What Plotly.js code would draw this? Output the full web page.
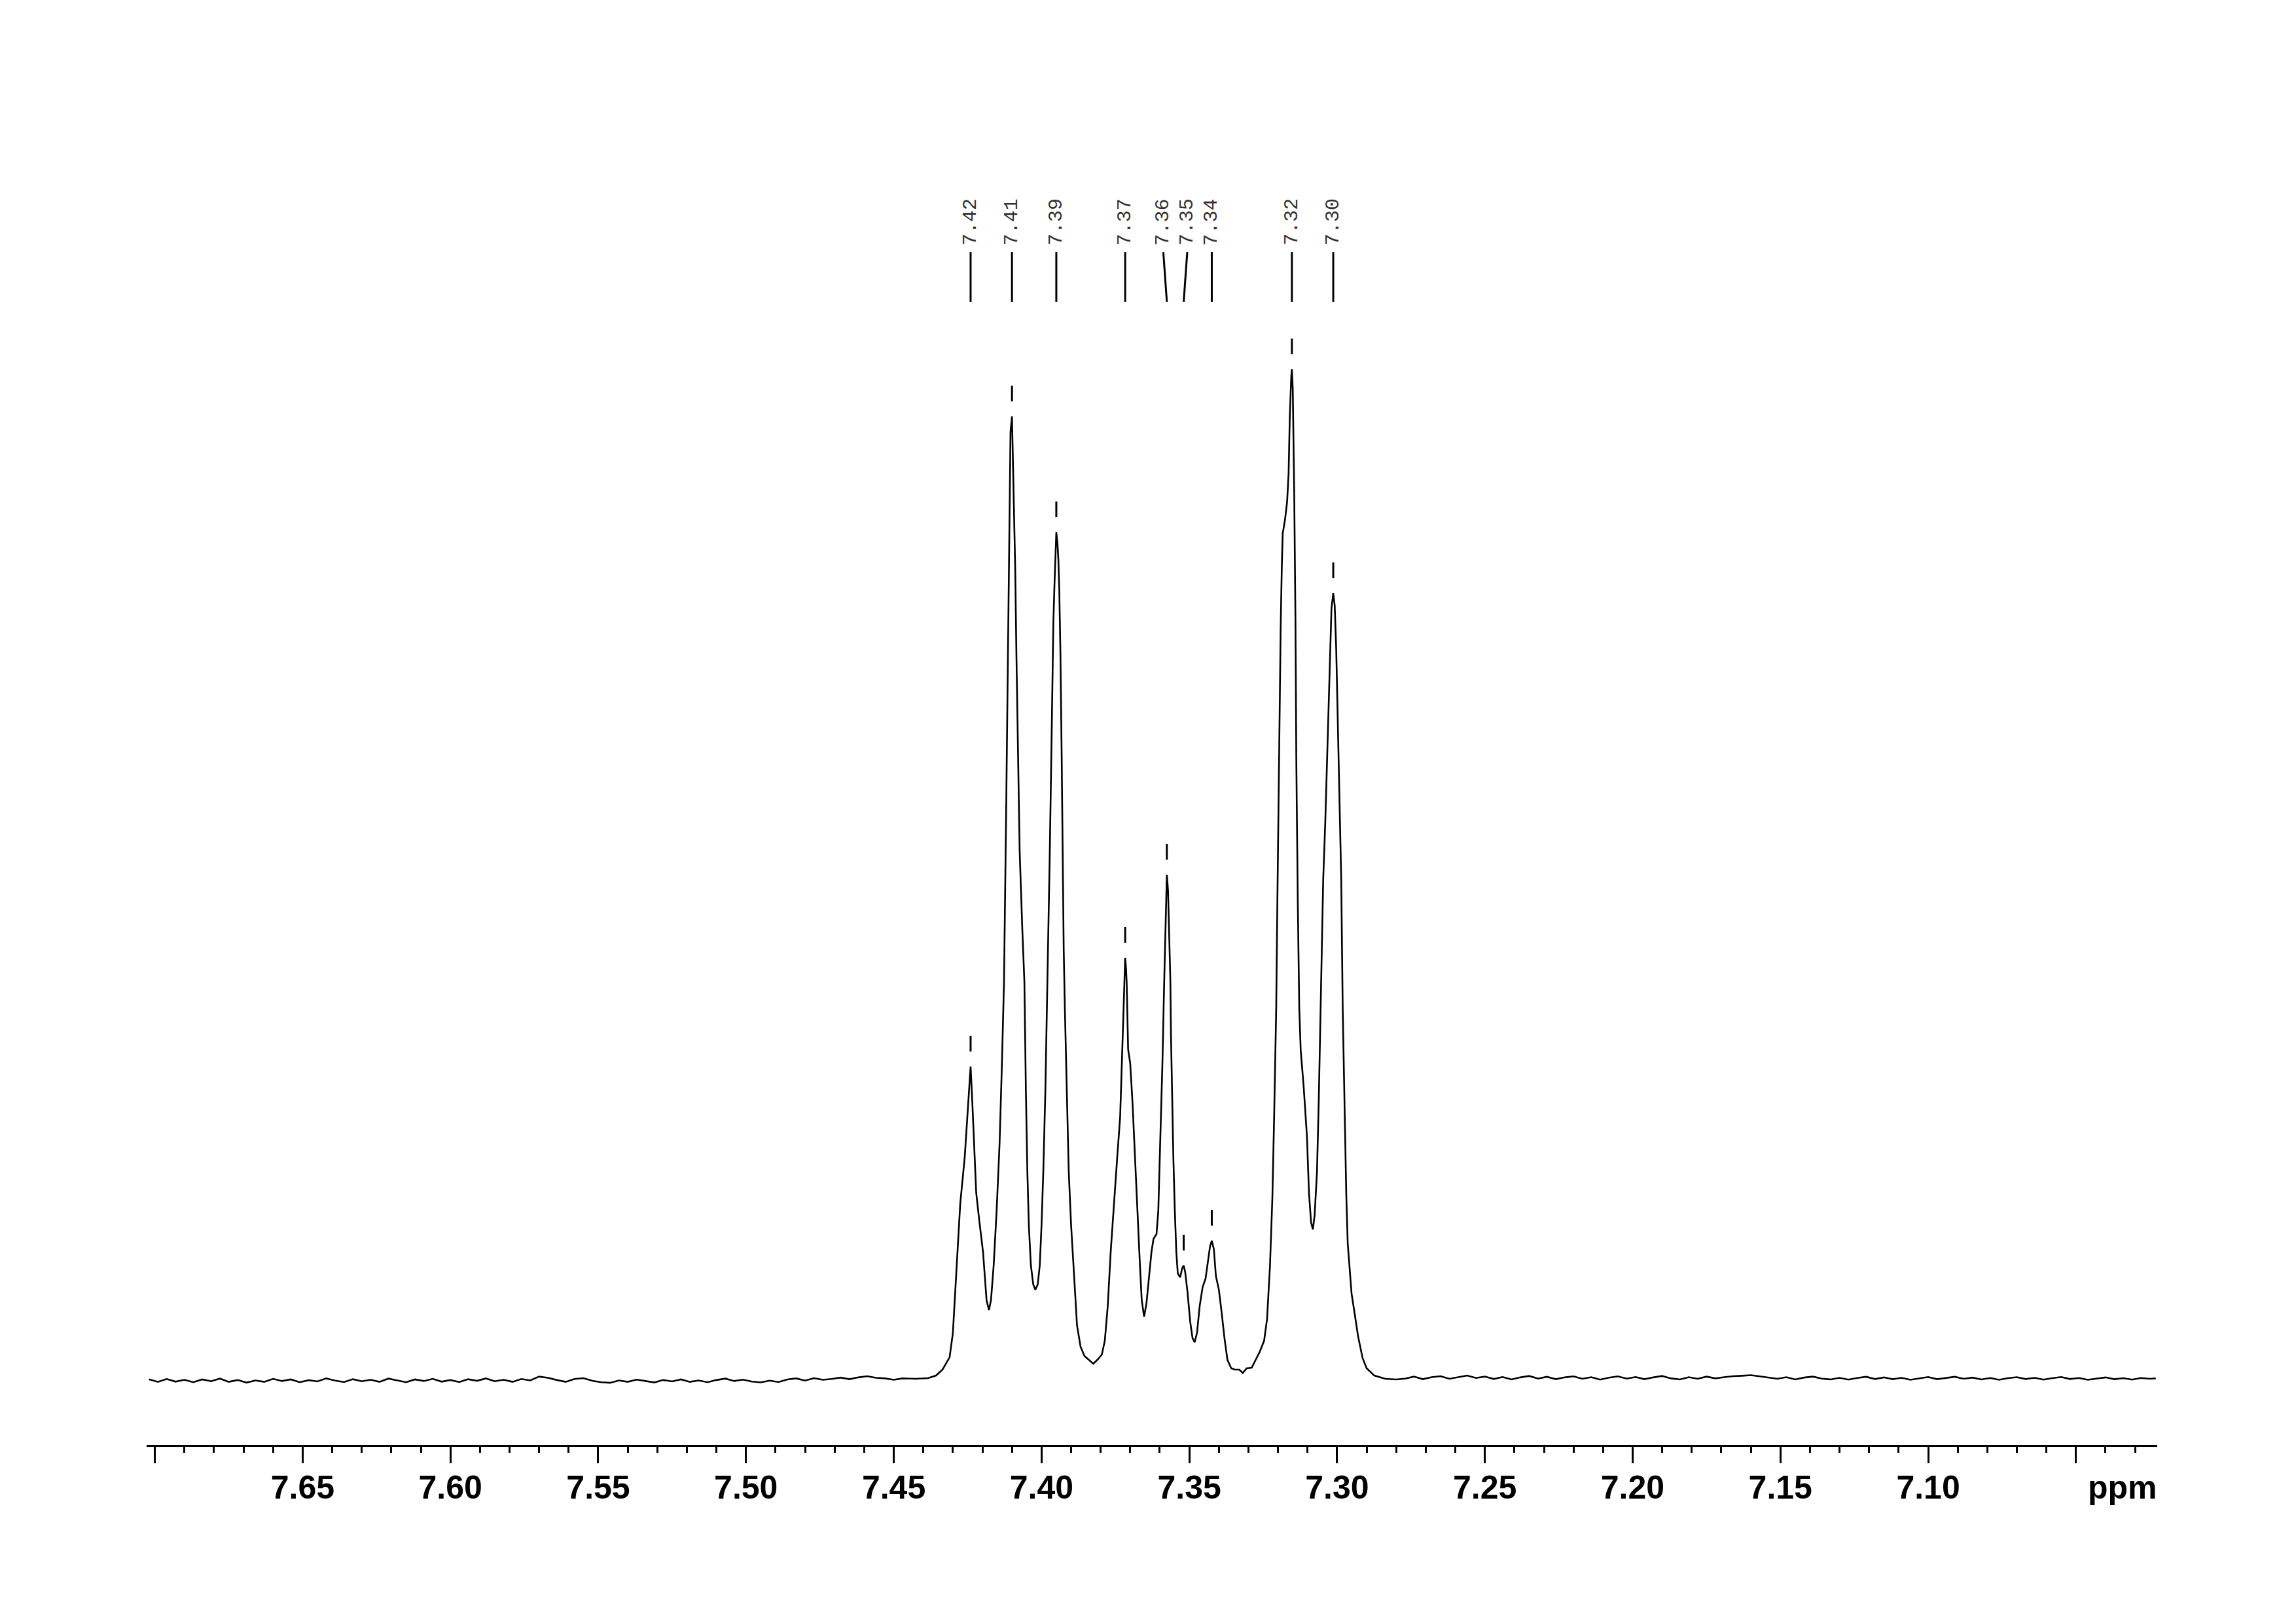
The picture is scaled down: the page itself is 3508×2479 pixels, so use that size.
<!DOCTYPE html>
<html>
<head>
<meta charset="utf-8">
<script src="https://cdn.plot.ly/plotly-3.0.1.min.js"></script>
<style>html,body{margin:0;padding:0;background:#fff;}#chart{width:3508px;height:2479px;}</style>
</head>
<body>
<div id="chart"></div>
<script>
// ---- Data (chemical shift in ppm, intensity in arbitrary units) ----
const baseLeftPpm = [7.702,7.699,7.696,7.693,7.690,7.687,7.684,7.681,7.678,7.675,7.672,7.669,7.666,7.663,7.660,7.657,7.654,7.651,7.648,7.645,7.642,7.639,7.636,7.633,7.630,7.627,7.624,7.621,7.618,7.615,7.612,7.609,7.606,7.603,7.600,7.597,7.594,7.591,7.588,7.585,7.582,7.579,7.576,7.573,7.570,7.567,7.564,7.561,7.558,7.555,7.552,7.549,7.546,7.543,7.540,7.537,7.534,7.531,7.528,7.525,7.522,7.519,7.516,7.513,7.510,7.507,7.504,7.501,7.498,7.495,7.492,7.489,7.486,7.483,7.480,7.477,7.474,7.471,7.468,7.465,7.462,7.459,7.456,7.453,7.450,7.447,7.4445];
const baseLeftInt = [-0.05,-0.30,-0.02,-0.28,-0.10,-0.34,-0.06,-0.24,0.02,-0.30,-0.12,-0.38,-0.16,-0.30,0.00,-0.22,-0.06,-0.34,-0.14,-0.26,0.04,-0.18,-0.32,-0.04,-0.24,-0.10,-0.30,0.02,-0.16,-0.34,-0.06,-0.22,0.00,-0.28,-0.12,-0.32,-0.04,-0.20,0.04,-0.24,-0.10,-0.30,-0.02,-0.16,0.22,0.10,-0.12,-0.30,-0.02,0.06,-0.20,-0.34,-0.40,-0.16,-0.30,-0.08,-0.22,-0.36,-0.12,-0.26,-0.06,-0.30,-0.16,-0.34,-0.12,0.02,-0.22,-0.08,-0.28,-0.36,-0.18,-0.32,-0.06,0.04,-0.18,0.06,-0.10,-0.02,0.12,-0.04,0.14,0.26,0.10,0.04,-0.10,0.04,0.02];

const multipletPpm = [7.4424,7.4384,7.4357,7.4335,7.4311,7.4300,7.4290,7.4275,7.4260,7.4251,7.4246,7.4240,7.4236,7.4228,7.4221,7.4211,7.4198,7.4186,7.4178,7.4171,7.4162,7.4152,7.4142,7.4134,7.4127,7.4120,7.4115,7.4111,7.4108,7.4105,7.4100,7.4097,7.4094,7.4089,7.4085,7.4080,7.4074,7.4065,7.4058,7.4053,7.4048,7.4043,7.4036,7.4028,7.4021,7.4013,7.4006,7.4000,7.3994,7.3987,7.3982,7.3977,7.3972,7.3965,7.3960,7.3956,7.3953,7.3950,7.3946,7.3943,7.3940,7.3936,7.3932,7.3929,7.3925,7.3921,7.3915,7.3908,7.3900,7.3890,7.3880,7.3868,7.3855,7.3840,7.3825,7.3811,7.3796,7.3786,7.3776,7.3766,7.3754,7.3744,7.3734,7.3727,7.3720,7.3717,7.3714,7.3712,7.3707,7.3700,7.3692,7.3684,7.3676,7.3667,7.3661,7.3653,7.3645,7.3636,7.3628,7.3621,7.3611,7.3605,7.3598,7.3591,7.3585,7.3581,7.3578,7.3576,7.3572,7.3569,7.3564,7.3562,7.3558,7.3554,7.3549,7.3544,7.3539,7.3531,7.3524,7.3519,7.3514,7.3506,7.3497,7.3489,7.3482,7.3474,7.3465,7.3455,7.3445,7.3437,7.3430,7.3424,7.3417,7.3410,7.3400,7.3391,7.3381,7.3371,7.3358,7.3346,7.3331,7.3319,7.3306,7.3289,7.3277,7.3262,7.3247,7.3237,7.3227,7.3219,7.3213,7.3206,7.3202,7.3198,7.3195,7.3191,7.3187,7.3184,7.3176,7.3169,7.3164,7.3160,7.3155,7.3153,7.3150,7.3145,7.3141,7.3138,7.3133,7.3128,7.3123,7.3113,7.3102,7.3095,7.3088,7.3082,7.3076,7.3068,7.3062,7.3054,7.3047,7.3040,7.3032,7.3025,7.3019,7.3013,7.3008,7.3003,7.2998,7.2992,7.2986,7.2981,7.2975,7.2969,7.2964,7.2958,7.2951,7.2940,7.2929,7.2914,7.2900,7.2874,7.2837,7.2800];
const multipletInt = [0,0.06,0.32,0.91,2.14,4.54,9.93,17.39,21.93,25.96,28.62,30.95,28.62,22.71,18.43,15.77,12.59,7.79,6.81,7.79,11.23,16.61,23.30,31.28,39.33,55.55,68.53,78.26,87.35,93.84,95.39,91.24,86.05,80.21,71.77,62.04,52.30,44.52,39.33,28.62,20.57,15.25,11.23,9.34,8.83,9.34,11.23,15.25,20.57,28.62,36.66,42.57,52.30,65.28,75.02,78.91,81.96,83.91,82.80,81.18,78.26,71.77,62.04,52.30,42.57,36.66,28.62,20.57,15.25,9.93,5.32,3.18,2.27,1.88,1.49,1.88,2.40,3.76,7.20,12.59,17.91,21.93,25.96,32.64,39.33,41.73,40.62,39.33,32.64,31.28,27.26,21.93,16.61,11.23,7.79,6.16,7.46,10.45,12.59,13.89,14.34,16.61,23.30,31.28,39.33,44.52,48.41,49.97,48.41,44.52,39.33,34.00,27.26,21.93,16.61,12.59,10.45,10.06,10.97,11.23,10.58,8.57,5.65,4.02,3.63,4.54,7.20,9.08,9.93,11.49,13.11,13.69,12.85,10.19,8.83,6.68,4.02,1.88,1.04,0.91,0.91,0.58,1.04,1.10,1.75,2.66,3.76,5.91,11.23,17.91,25.96,36.66,47.37,57.95,67.88,74.24,80.60,83.78,85.20,86.96,89.81,95.46,99.35,100.06,98.25,87.67,75.67,61.52,47.37,36.73,32.51,28.94,24.01,18.36,15.51,14.80,16.22,20.51,27.58,40.30,49.45,55.16,63.60,71.38,76.38,77.87,76.64,72.42,65.02,57.95,49.45,36.73,26.15,18.36,13.43,11.29,8.44,6.36,4.22,2.08,1.04,0.32,0,-0.06];

const baseRightPpm = [7.277,7.274,7.271,7.268,7.265,7.262,7.259,7.256,7.253,7.250,7.247,7.244,7.241,7.238,7.235,7.232,7.229,7.226,7.223,7.220,7.217,7.214,7.211,7.208,7.205,7.202,7.199,7.196,7.193,7.190,7.187,7.184,7.181,7.178,7.175,7.172,7.169,7.166,7.163,7.160,7.157,7.154,7.151,7.148,7.145,7.142,7.139,7.136,7.133,7.130,7.127,7.124,7.121,7.118,7.115,7.112,7.109,7.106,7.103,7.100,7.097,7.094,7.091,7.088,7.085,7.082,7.079,7.076,7.073,7.070,7.067,7.064,7.061,7.058,7.055,7.052,7.049,7.046,7.043,7.040,7.037,7.034,7.031,7.028,7.025,7.023];
const baseRightInt = [0.02,0.22,-0.04,0.16,0.26,0.00,0.18,0.32,0.08,0.22,-0.02,0.18,-0.06,0.14,0.28,0.02,0.20,-0.04,0.14,0.24,0.00,0.16,-0.08,0.12,0.24,0.02,0.18,-0.04,0.14,0.28,0.04,-0.06,0.16,0.00,0.22,0.04,0.16,0.26,0.30,0.36,0.24,0.14,0.00,0.16,-0.06,0.12,0.22,0.02,-0.06,0.10,-0.08,0.08,0.20,-0.02,0.14,-0.04,0.10,-0.10,0.06,0.18,-0.04,0.10,0.20,0.00,0.12,-0.06,0.08,-0.10,0.06,0.16,-0.02,0.10,-0.08,0.06,0.18,-0.02,0.08,-0.10,0.04,0.14,-0.04,0.06,-0.08,0.08,0.00,0.04];

// Picked peaks (position, height) and their printed labels
const peakPpm = [7.4240,7.4100,7.3950,7.3717,7.3576,7.3519,7.3424,7.3153,7.3013];
const peakInt = [30.95,95.39,83.91,41.73,49.97,11.23,13.69,100.06,77.87];
const peakLabels = ['7.42','7.41','7.39','7.37','7.36','7.35','7.34','7.32','7.30'];
const labelPpm = [7.4240,7.4100,7.3950,7.3717,7.3588,7.3507,7.3424,7.3153,7.3013];

// Axis ticks
const tickVals = [7.70,7.65,7.60,7.55,7.50,7.45,7.40,7.35,7.30,7.25,7.20,7.15,7.10,7.05];
const tickText = ['','7.65','7.60','7.55','7.50','7.45','7.40','7.35','7.30','7.25','7.20','7.15','7.10',''];
const axisUnit = 'ppm';
const axisUnitPos = 7.0343;

// ---- Build figure ----
const xs = baseLeftPpm.concat(multipletPpm, baseRightPpm);
const ys = baseLeftInt.concat(multipletInt, baseRightInt);

const trace = {
  x: xs, y: ys, type: 'scatter', mode: 'lines',
  line: {color: '#000', width: 2.6}, hoverinfo: 'skip', showlegend: false
};

const shapes = [];
const annotations = [];
const lineTop = 0.8647, lineBottom = 0.8287, textBottom = 0.8690;
for (let i = 0; i < peakPpm.length; i++) {
  // small marker above each picked peak
  shapes.push({type: 'line', xref: 'x', yref: 'y', ysizemode: 'pixel', yanchor: peakInt[i],
    x0: peakPpm[i], x1: peakPpm[i], y0: 23, y1: 47, line: {color: '#000', width: 3}});
  // label connector line
  shapes.push({type: 'line', xref: 'x', yref: 'paper', x0: peakPpm[i], x1: labelPpm[i],
    y0: lineBottom, y1: lineTop, line: {color: '#000', width: 3}});
  annotations.push({text: peakLabels[i], xref: 'x', yref: 'paper', x: labelPpm[i], y: textBottom,
    xanchor: 'center', yanchor: 'bottom', textangle: -90, showarrow: false, borderpad: 0,
    font: {family: 'Liberation Mono, DejaVu Sans Mono, monospace', size: 30, color: '#333'}});
}
annotations.push({text: axisUnit, xref: 'x', yref: 'paper', x: axisUnitPos, y: -0.0172,
  xanchor: 'center', yanchor: 'top', showarrow: false, borderpad: 0,
  font: {family: 'Liberation Sans, Arial, sans-serif', size: 50, color: '#000', weight: 'bold'}});

const layout = {
  width: 3508, height: 2479,
  paper_bgcolor: '#fff', plot_bgcolor: '#fff',
  margin: {l: 224, r: 212, t: 100, b: 272},
  showlegend: false,
  xaxis: {
    range: [7.7028, 7.0225], showgrid: false, zeroline: false,
    showline: true, linecolor: '#000', linewidth: 3,
    ticks: 'outside', ticklen: 25, tickwidth: 3, tickcolor: '#000',
    tickmode: 'array', tickvals: tickVals, ticktext: tickText,
    ticklabelstandoff: -6,
    tickfont: {family: 'Liberation Sans, Arial, sans-serif', size: 50, color: '#000', weight: 'bold'},
    minor: {tickmode: 'linear', tick0: 7.0, dtick: 0.01, ticks: 'outside', ticklen: 9, tickwidth: 3, tickcolor: '#000', showgrid: false},
    fixedrange: true
  },
  yaxis: {range: [-6.554, 130.18], visible: false, showgrid: false, zeroline: false, fixedrange: true},
  shapes: shapes,
  annotations: annotations
};

Plotly.newPlot('chart', [trace], layout, {staticPlot: true, displayModeBar: false});
</script>
</body>
</html>
